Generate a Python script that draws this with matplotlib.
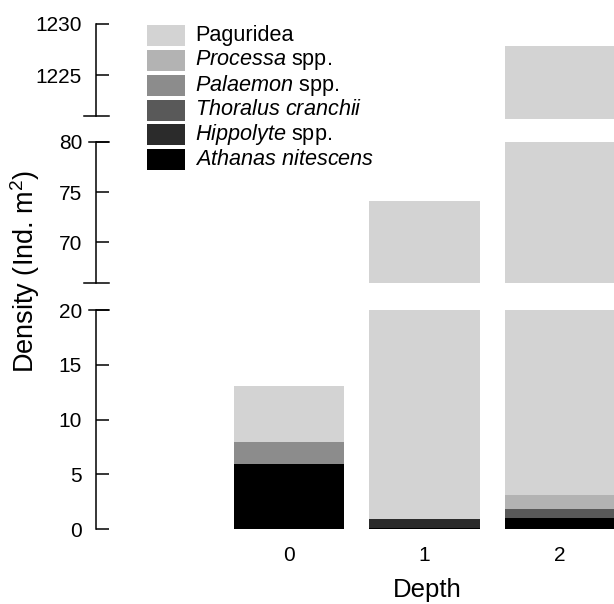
import matplotlib
matplotlib.use('Agg')
import matplotlib.pyplot as plt
from matplotlib.patches import Rectangle
from matplotlib.transforms import blended_transform_factory

plt.rcParams['font.family'] = ['Liberation Sans', 'DejaVu Sans']
plt.rcParams['mathtext.fontset'] = 'custom'
plt.rcParams['mathtext.rm'] = 'Liberation Sans'
plt.rcParams['mathtext.it'] = 'Liberation Sans:italic'

# data (Ind. m^2), stacked from bottom to top
depth = ['0', '1', '2']
athanas = [6.0, 0.15, 1.0]
hippolyte = [0.0, 0.75, 0.0]
thoralus = [0.0, 0.0, 0.85]
palaemon = [2.0, 0.0, 0.0]
processa = [0.0, 0.0, 1.25]
paguridea = [5.1, 73.2, 1224.7]

series = [athanas, hippolyte, thoralus, palaemon, processa, paguridea]
colors = ['#000000', '#2b2b2b', '#595959', '#8c8c8c', '#b3b3b3', '#d3d3d3']
labels = [r'$\mathit{Athanas\ nitescens}$', r'$\mathit{Hippolyte}$ spp.',
          r'$\mathit{Thoralus\ cranchii}$', r'$\mathit{Palaemon}$ spp.',
          r'$\mathit{Processa}$ spp.', 'Paguridea']

W, H = 614, 604
fig = plt.figure(figsize=(W / 100, H / 100), dpi=100)


def px_box(top, bottom, left=96, right=614):
    return [left / W, 1 - bottom / H, (right - left) / W, (bottom - top) / H]


# (top px, bottom px, ylim, ticks, spine bottom)
panels = [
    (24, 119, (1220.69, 1230), [1225, 1230], 1221),
    (141.7, 282.7, (66, 80), [70, 75, 80], 66),
    (310, 529.3, (0, 20), [0, 5, 10, 15, 20], 0),
]

x = range(len(depth))
axes = []
for i, (top, bottom, ylim, ticks, spine_lo) in enumerate(panels):
    ax = fig.add_axes(px_box(top, bottom))
    base = [0.0] * len(depth)
    for vals, col in zip(series, colors):
        ax.bar(x, vals, bottom=base, width=0.815, color=col, linewidth=0)
        base = [b + v for b, v in zip(base, vals)]
    ax.set_xlim(-1.424, 2.399)
    ax.set_ylim(*ylim)
    ax.set_yticks(ticks)
    for s in ['top', 'right', 'bottom']:
        ax.spines[s].set_visible(False)
    ax.spines['left'].set_bounds(spine_lo, ylim[1])
    ax.spines['left'].set_linewidth(1.1)
    ax.tick_params(axis='y', direction='in', length=9.4, width=1.1, pad=10,
                   labelsize=15)
    if i == 2:
        ax.set_xticks(list(x))
        ax.set_xticklabels(depth)
        ax.tick_params(axis='x', length=0, pad=12, labelsize=15)
    else:
        ax.set_xticks([])
    axes.append(ax)

# axis break marks
for i, ax in enumerate(axes):
    tr = blended_transform_factory(fig.transFigure, ax.transData)
    lo = panels[i][4]
    hi = panels[i][2][1]
    if i < 2:
        ax.plot([84 / W, 109 / W], [lo, lo], color='black', lw=1.1,
                transform=tr, clip_on=False)
    if i > 0:
        ax.plot([89 / W, 109 / W], [hi, hi], color='black', lw=1.1,
                transform=tr, clip_on=False)

# legend
for j in range(len(labels)):
    k = len(labels) - 1 - j
    yc = 35.3 + j * 24.9
    fig.patches.append(Rectangle((147 / W, 1 - (yc + 10.5) / H), 38 / W, 21 / H,
                                 transform=fig.transFigure, color=colors[k],
                                 linewidth=0))
    fig.text(195 / W, 1 - yc / H, labels[k], ha='left', va='center', fontsize=15.6)

fig.text(427.5 / W, 1 - 590 / H, 'Depth', ha='center', va='center', fontsize=18.5)
fig.text(25 / W, 1 - 271 / H, r'Density (Ind. m$^2$)', rotation=90,
         ha='center', va='center', fontsize=19.5)

fig.savefig('out.png', dpi=100)
